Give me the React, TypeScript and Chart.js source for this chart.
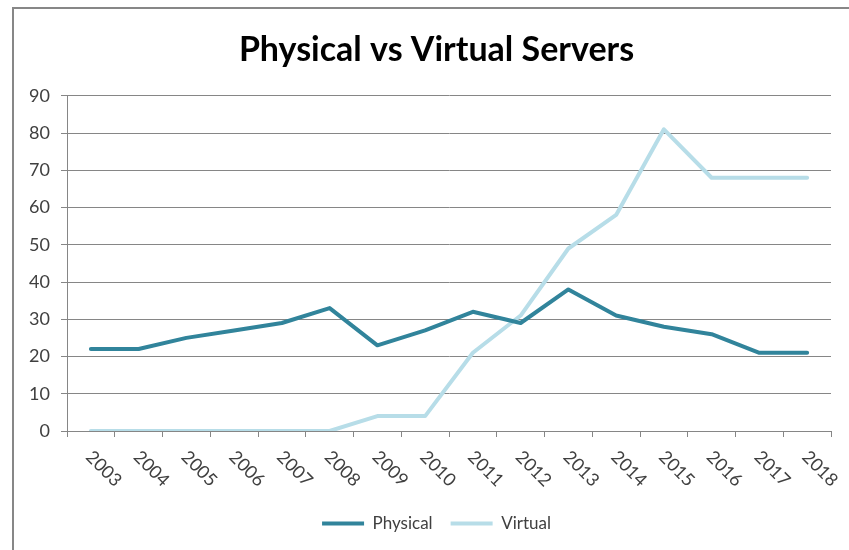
import React, { useEffect, useRef } from "react";
import { Chart, registerables } from "chart.js";

Chart.register(...registerables);

const categories = ["2003", "2004", "2005", "2006", "2007", "2008", "2009", "2010", "2011", "2012", "2013", "2014", "2015", "2016", "2017", "2018"];
const physical = [22, 22, 25, 27, 29, 33, 23, 27, 32, 29, 38, 31, 28, 26, 21, 21];
const virtualServers = [0, 0, 0, 0, 0, 0, 4, 4, 21, 31, 49, 58, 81, 68, 68, 68];
const yMin = 0;
const yMax = 90;
const yStep = 10;
const titleText = "Physical vs Virtual Servers";

const GRID = "#868686";
const TEXT = "#404040";

const rotatedXLabels = {
  id: "rotatedXLabels",
  afterDraw(chart: any) {
    const xs = chart.scales.x;
    const ctx = chart.ctx;
    ctx.save();
    ctx.font = "18px Lato";
    ctx.fillStyle = TEXT;
    ctx.textAlign = "left";
    ctx.textBaseline = "middle";
    (chart.data.labels as string[]).forEach((lab, i) => {
      const x = xs.getPixelForValue(i);
      ctx.save();
      ctx.translate(x - 2, xs.top + 23);
      ctx.rotate(Math.PI / 4);
      ctx.fillText(lab, 0, 0);
      ctx.restore();
    });
    ctx.restore();
  },
};

// centre title and legend over the same span as the original (left edge at 42px)
const centreBoxes = {
  id: "centreBoxes",
  afterLayout(chart: any) {
    if (chart.titleBlock) chart.titleBlock.left = 42;
    if (chart.legend) chart.legend.left = 42;
  },
};

export default function App() {
  const ref = useRef<HTMLCanvasElement | null>(null);
  useEffect(() => {
    if (!ref.current) return;
    const chart = new Chart(ref.current, {
      type: "line",
      data: {
        labels: categories,
        datasets: [
          {
            label: "Physical",
            data: physical,
            borderColor: "#31849B",
            backgroundColor: "#31849B",
            borderWidth: 4,
            pointRadius: 0,
            pointHoverRadius: 0,
            tension: 0,
            borderJoinStyle: "round",
            borderCapStyle: "round",
            pointStyle: "line",
          },
          {
            label: "Virtual",
            data: virtualServers,
            borderColor: "#B7DDE8",
            backgroundColor: "#B7DDE8",
            borderWidth: 4,
            pointRadius: 0,
            pointHoverRadius: 0,
            tension: 0,
            borderJoinStyle: "round",
            borderCapStyle: "round",
            pointStyle: "line",
          },
        ],
      },
      options: {
        responsive: false,
        animation: false,
        layout: { padding: { left: 14, right: 18, top: 0, bottom: 8 } },
        plugins: {
          title: {
            display: true,
            text: titleText,
            color: "#000000",
            font: { family: "Lato", size: 34, weight: "bold", lineHeight: 1.2 },
            padding: { top: 30, bottom: 25 },
          },
          legend: {
            display: true,
            position: "bottom",
            labels: {
              usePointStyle: true,
              pointStyleWidth: 42,
              boxHeight: 4,
              padding: 18,
              color: TEXT,
              font: { family: "Lato", size: 17 },
            },
          },
          tooltip: { enabled: false },
        },
        scales: {
          x: {
            type: "category",
            offset: true,
            afterFit(scale: any) {
              scale.height = 66;
            },
            grid: {
              display: true,
              offset: true,
              drawOnChartArea: false,
              drawTicks: true,
              tickLength: 6,
              color: GRID,
              lineWidth: 1,
            },
            border: { display: true, color: GRID, width: 1 },
            ticks: { display: false },
          },
          y: {
            min: yMin,
            max: yMax,
            afterFit(scale: any) {
              scale.width = 53;
            },
            ticks: {
              stepSize: yStep,
              color: TEXT,
              padding: 11,
              font: { family: "Lato", size: 18 },
            },
            grid: {
              color: GRID,
              lineWidth: 1,
              drawTicks: true,
              tickLength: 6,
            },
            border: { display: true, color: GRID, width: 1 },
          },
        },
      },
      plugins: [rotatedXLabels, centreBoxes],
    } as any);
    return () => chart.destroy();
  }, []);

  return (
    <div style={{ position: "fixed", left: 0, top: 0, width: 849, height: 550, overflow: "hidden", background: "#ffffff" }}>
      <div
        style={{
          position: "absolute",
          left: 12,
          top: 7,
          width: 1000,
          height: 1000,
          borderTop: "2px solid #878787",
          borderLeft: "2px solid #878787",
        }}
      />
      <canvas ref={ref} width={849} height={550} style={{ position: "absolute", left: 0, top: 0, width: 849, height: 550 }} />
    </div>
  );
}
